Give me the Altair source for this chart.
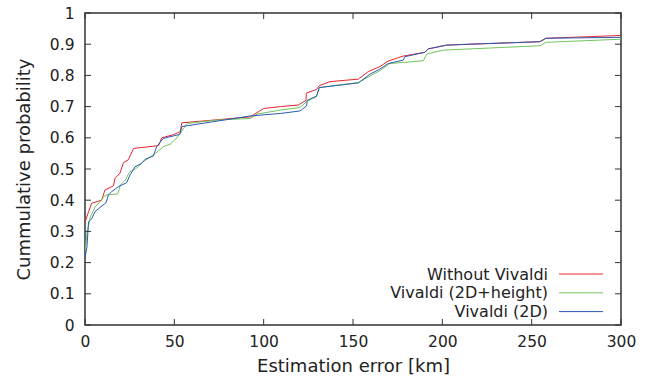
import altair as alt
import pandas as pd

series_names = ["Without Vivaldi", "Vivaldi (2D+height)", "Vivaldi (2D)"]
series_colors = ["#e3262e", "#72c45c", "#2b5bb5"]

red_x = [0, 3.7, 9.3, 11.2, 15.9, 16.8, 19.6, 21.5, 24.3, 27.2, 41.2, 43, 49.6, 53.3, 54.2,
         92.5, 100, 109.4, 119.4, 123.7, 123.9, 129.6, 131.1, 137.1, 153, 158.5, 165, 169.7,
         178.1, 190.3, 192.1, 202.4, 215.4, 254.6, 258, 300]
red_y = [0.33, 0.39, 0.40, 0.433, 0.446, 0.47, 0.487, 0.52, 0.53, 0.566, 0.575, 0.60, 0.61, 0.62, 0.648,
         0.667, 0.694, 0.70, 0.705, 0.72, 0.743, 0.755, 0.767, 0.78, 0.788, 0.812, 0.828, 0.846,
         0.862, 0.874, 0.885, 0.897, 0.90, 0.908, 0.919, 0.928]

green_x = [0, 1.1, 3, 5.8, 8.6, 10.4, 12.3, 18.3, 19.8, 22.6, 25, 28.2, 32.8, 39.4, 44, 47.8, 50.6,
           53.3, 57.1, 73.9, 92.5, 96.3, 109.4, 120.3, 124, 129.6, 131.1, 153, 159.5, 165, 170.6,
           189.3, 191.5, 200.5, 254.6, 258, 300]
green_y = [0.23, 0.295, 0.347, 0.38, 0.395, 0.411, 0.417, 0.42, 0.449, 0.465, 0.491, 0.50, 0.524, 0.55,
           0.572, 0.58, 0.595, 0.614, 0.646, 0.657, 0.662, 0.676, 0.689, 0.697, 0.716, 0.732, 0.761,
           0.777, 0.798, 0.815, 0.838, 0.847, 0.869, 0.881, 0.895, 0.906, 0.916]

blue_x = [0, 1.1, 2, 3.7, 5.6, 8.4, 11.8, 13.1, 14.9, 18.6, 23.3, 25.2, 28, 31.7, 33.6, 38.3, 40.1,
          43.8, 53.1, 54.2, 92.5, 109.4, 120.3, 124, 124.4, 129.6, 131.1, 153, 159.5, 165, 169.7,
          178.1, 179, 190.3, 192.1, 202.4, 215.4, 254.6, 258, 300]
blue_y = [0.215, 0.25, 0.331, 0.34, 0.363, 0.377, 0.392, 0.417, 0.427, 0.443, 0.456, 0.481, 0.507,
          0.518, 0.531, 0.542, 0.572, 0.598, 0.611, 0.636, 0.67, 0.678, 0.686, 0.702, 0.72, 0.734,
          0.761, 0.776, 0.804, 0.82, 0.838, 0.849, 0.86, 0.874, 0.885, 0.897, 0.90, 0.908, 0.919, 0.922]

x_ticks = [0, 50, 100, 150, 200, 250, 300]
y_ticks = [0, 0.1, 0.2, 0.3, 0.4, 0.5, 0.6, 0.7, 0.8, 0.9, 1]

W, H = 536, 312
FONT = "DejaVu Sans"
TXT = "#222222"
FRAME = "#333333"

xscale = alt.Scale(domain=[0, 300], nice=False, zero=False)
yscale = alt.Scale(domain=[0, 1], nice=False, zero=False)
xaxis = alt.Axis(values=x_ticks, ticks=False, tickSize=0, domain=False, grid=False,
                 labelPadding=9, titlePadding=8, format="d", labelFlush=False)
yaxis = alt.Axis(values=y_ticks, ticks=False, tickSize=0, domain=False, grid=False,
                 labelPadding=11, titlePadding=16, format="~g", labelFlush=False)
XT = "Estimation error [km]"
YT = "Cummulative probability"
color = alt.Color("series:N", scale=alt.Scale(domain=series_names, range=series_colors), legend=None)

layers = []
for name, xs, ys in [(series_names[0], red_x, red_y),
                     (series_names[1], green_x, green_y),
                     (series_names[2], blue_x, blue_y)]:
    d = pd.DataFrame({"x": xs, "y": ys, "i": list(range(len(xs))), "series": name})
    layers.append(
        alt.Chart(d).mark_line(strokeWidth=1, clip=True).encode(
            x=alt.X("x:Q", scale=xscale, axis=xaxis, title=XT),
            y=alt.Y("y:Q", scale=yscale, axis=yaxis, title=YT),
            order="i:Q",
            color=color,
        )
    )

xt = pd.DataFrame({"x": x_ticks})
yt = pd.DataFrame({"y": y_ticks})
tick_style = dict(color=FRAME, strokeWidth=1)
for y0, y1 in [(H, H - 6), (0, 6)]:
    layers.append(alt.Chart(xt).mark_rule(**tick_style).encode(
        x=alt.X("x:Q", scale=xscale, axis=xaxis, title=XT),
        y=alt.value(y0), y2=alt.value(y1)))
for x0, x1 in [(0, 6), (W - 6, W)]:
    layers.append(alt.Chart(yt).mark_rule(**tick_style).encode(
        y=alt.Y("y:Q", scale=yscale, axis=yaxis, title=YT),
        x=alt.value(x0), x2=alt.value(x1)))

# legend (gnuplot style: text, then sample line)
leg = pd.DataFrame({"series": series_names})
for k, name in enumerate(series_names):
    ly = 261 + 18.8 * k
    sub = alt.Chart(leg).transform_filter(alt.datum.series == name)
    layers.append(sub.mark_text(align="right", baseline="middle", font=FONT, fontSize=16,
                                color=TXT).encode(text="series:N", x=alt.value(463), y=alt.value(ly + 0.5)))
    layers.append(sub.mark_rule(strokeWidth=1).encode(
        color=color, x=alt.value(474), x2=alt.value(518), y=alt.value(ly)))

chart = alt.layer(*layers).properties(
    width=W, height=H,
    background="white",
    autosize=alt.AutoSizeParams(type="none"),
    padding={"left": 85, "top": 13, "right": 31, "bottom": 58},
).configure_view(
    stroke=FRAME, strokeWidth=1.5
).configure_axis(
    labelFont=FONT, labelFontSize=15.5, labelColor=TXT,
    titleFont=FONT, titleFontSize=18, titleFontWeight="normal", titleColor=TXT,
)

chart.save("out.html", embed_options={"renderer": "svg", "actions": False})
